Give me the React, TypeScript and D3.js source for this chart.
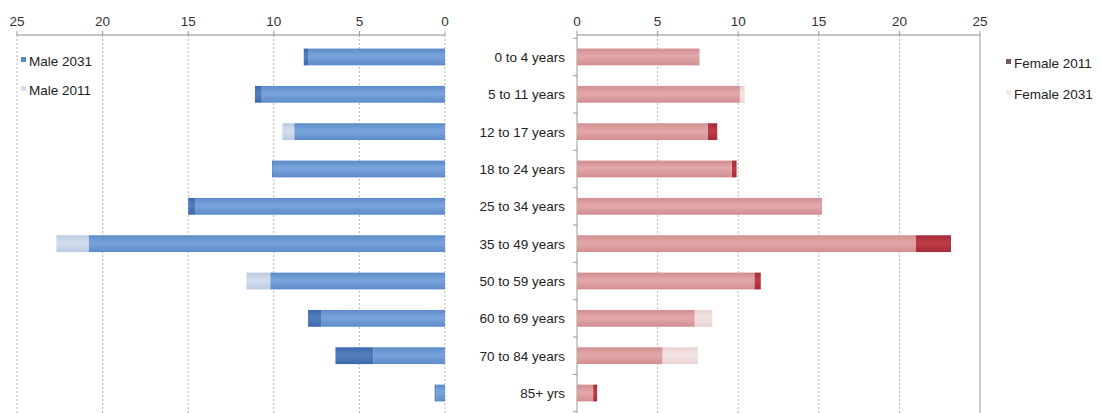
import React, { useEffect, useRef } from "react";
import * as d3 from "d3";

// age groups, top to bottom
const categories = [
  "0 to 4 years",
  "5 to 11 years",
  "12 to 17 years",
  "18 to 24 years",
  "25 to 34 years",
  "35 to 49 years",
  "50 to 59 years",
  "60 to 69 years",
  "70 to 84 years",
  "85+ yrs",
];

// percentages
const male2031 = [8.25, 11.1, 8.8, 10.1, 15.0, 20.8, 10.2, 8.0, 6.4, 0.6];
const male2011 = [8.0, 10.7, 9.5, 10.05, 14.6, 22.7, 11.6, 7.2, 4.2, 0.5];
const female2011 = [7.6, 10.1, 8.7, 9.9, 15.2, 23.2, 11.4, 7.3, 5.3, 1.25];
const female2031 = [7.6, 10.4, 8.1, 9.6, 15.2, 21.0, 11.0, 8.4, 7.5, 1.0];

const ticks = [0, 5, 10, 15, 20, 25];

const FONT = "'Liberation Sans', Arial, Helvetica, sans-serif";

function App() {
  const ref = useRef<SVGSVGElement | null>(null);

  useEffect(() => {
    const svg = d3.select(ref.current);
    svg.selectAll("*").remove();

    const top = 35;
    const bottom = 413;

    // scales
    const xL = d3.scaleLinear().domain([0, 25]).range([445, 17]);
    const xR = d3.scaleLinear().domain([0, 25]).range([577, 980]);
    const y = d3
      .scaleBand<string>()
      .domain(categories)
      .range([38.3, 411.7])
      .paddingInner(0.55)
      .paddingOuter(0.275);

    // gradients for the bars (a bit of shine like the original)
    const defs = svg.append("defs");
    const grad = (id: string, edge: string, mid: string) => {
      const g = defs
        .append("linearGradient")
        .attr("id", id)
        .attr("x1", 0)
        .attr("y1", 0)
        .attr("x2", 0)
        .attr("y2", 1);
      g.append("stop").attr("offset", "0%").attr("stop-color", edge);
      g.append("stop").attr("offset", "45%").attr("stop-color", mid);
      g.append("stop").attr("offset", "100%").attr("stop-color", edge);
    };
    grad("maleMain", "#5c8bc9", "#79a5dc");
    grad("maleDark", "#3d69aa", "#5580c0");
    grad("maleLight", "#bccbe2", "#d4deed");
    grad("femMain", "#d28e91", "#e2a9aa");
    grad("femDark", "#a52a38", "#bf3d48");
    grad("femLight", "#ead2d2", "#f3e4e4");

    const grid = svg.append("g");

    // left panel grid + axis
    ticks.forEach((t) => {
      grid
        .append("line")
        .attr("x1", xL(t))
        .attr("x2", xL(t))
        .attr("y1", top)
        .attr("y2", bottom)
        .attr("stroke", "#b5b5b5")
        .attr("stroke-dasharray", "2,2");
      grid
        .append("line")
        .attr("x1", xL(t))
        .attr("x2", xL(t))
        .attr("y1", top - 4)
        .attr("y2", top)
        .attr("stroke", "#999");
    });
    grid
      .append("line")
      .attr("x1", xL(25))
      .attr("x2", xL(0))
      .attr("y1", top)
      .attr("y2", top)
      .attr("stroke", "#8c8c8c");

    // right panel grid + axis
    ticks.forEach((t) => {
      const solid = t === 0 || t === 25;
      grid
        .append("line")
        .attr("x1", xR(t))
        .attr("x2", xR(t))
        .attr("y1", top)
        .attr("y2", bottom)
        .attr("stroke", solid ? "#9a9a9a" : "#b5b5b5")
        .attr("stroke-dasharray", solid ? null : "2,2");
      grid
        .append("line")
        .attr("x1", xR(t))
        .attr("x2", xR(t))
        .attr("y1", top - 4)
        .attr("y2", top)
        .attr("stroke", "#999");
    });
    grid
      .append("line")
      .attr("x1", xR(0))
      .attr("x2", xR(25))
      .attr("y1", top)
      .attr("y2", top)
      .attr("stroke", "#8c8c8c");

    // little category ticks on the right panel's axis
    const step = y.step();
    d3.range(categories.length + 1).forEach((i) => {
      const yy = 38.3 + i * step;
      grid
        .append("line")
        .attr("x1", xR(0) - 4)
        .attr("x2", xR(0))
        .attr("y1", yy)
        .attr("y2", yy)
        .attr("stroke", "#999");
    });

    // tick labels
    const tickText = (x: number, t: number) =>
      svg
        .append("text")
        .attr("x", x)
        .attr("y", 26)
        .attr("text-anchor", "middle")
        .attr("font-family", FONT)
        .attr("font-size", 13.5)
        .attr("fill", "#333")
        .text(t);
    ticks.forEach((t) => {
      tickText(xL(t), t);
      tickText(xR(t), t);
    });

    // male bars (overlapped: shared part + the difference)
    const rows = categories.map((c, i) => ({
      c,
      m31: male2031[i],
      m11: male2011[i],
      f11: female2011[i],
      f31: female2031[i],
    }));

    const bars = svg.append("g");
    rows.forEach((d) => {
      const lo = Math.min(d.m31, d.m11);
      const hi = Math.max(d.m31, d.m11);
      bars
        .append("rect")
        .attr("x", xL(hi))
        .attr("y", y(d.c)!)
        .attr("width", xL(lo) - xL(hi))
        .attr("height", y.bandwidth())
        .attr("fill", d.m31 > d.m11 ? "url(#maleDark)" : "url(#maleLight)");
      bars
        .append("rect")
        .attr("x", xL(lo))
        .attr("y", y(d.c)!)
        .attr("width", xL(0) - xL(lo))
        .attr("height", y.bandwidth())
        .attr("fill", "url(#maleMain)");
    });

    // female bars
    rows.forEach((d) => {
      const lo = Math.min(d.f11, d.f31);
      const hi = Math.max(d.f11, d.f31);
      bars
        .append("rect")
        .attr("x", xR(lo))
        .attr("y", y(d.c)!)
        .attr("width", xR(hi) - xR(lo))
        .attr("height", y.bandwidth())
        .attr("fill", d.f11 > d.f31 ? "url(#femDark)" : "url(#femLight)");
      bars
        .append("rect")
        .attr("x", xR(0))
        .attr("y", y(d.c)!)
        .attr("width", xR(lo) - xR(0))
        .attr("height", y.bandwidth())
        .attr("fill", "url(#femMain)");
    });

    // category labels between the panels
    svg
      .append("g")
      .selectAll("text")
      .data(categories)
      .enter()
      .append("text")
      .attr("x", 565)
      .attr("y", (c) => y(c)! + y.bandwidth() / 2)
      .attr("dy", "0.36em")
      .attr("text-anchor", "end")
      .attr("font-family", FONT)
      .attr("font-size", 13.5)
      .attr("fill", "#222")
      .text((c) => c);

    // legends
    const legend = (x: number, yy: number, color: string, label: string) => {
      svg
        .append("rect")
        .attr("x", x)
        .attr("y", yy - 9)
        .attr("width", 5)
        .attr("height", 5)
        .attr("fill", color);
      svg
        .append("text")
        .attr("x", x + 8)
        .attr("y", yy)
        .attr("font-family", FONT)
        .attr("font-size", 13.5)
        .attr("fill", "#222")
        .text(label);
    };
    legend(21, 66, "#5a86c2", "Male 2031");
    legend(21, 95, "#d6dde8", "Male 2011");
    legend(1006, 68, "#7a5a60", "Female 2011");
    legend(1006, 99, "#f2ecec", "Female 2031");
  }, []);

  return (
    <svg
      ref={ref}
      width={1102}
      height={413}
      style={{ position: "absolute", left: 0, top: 0, background: "#fff" }}
    />
  );
}

export default App;
